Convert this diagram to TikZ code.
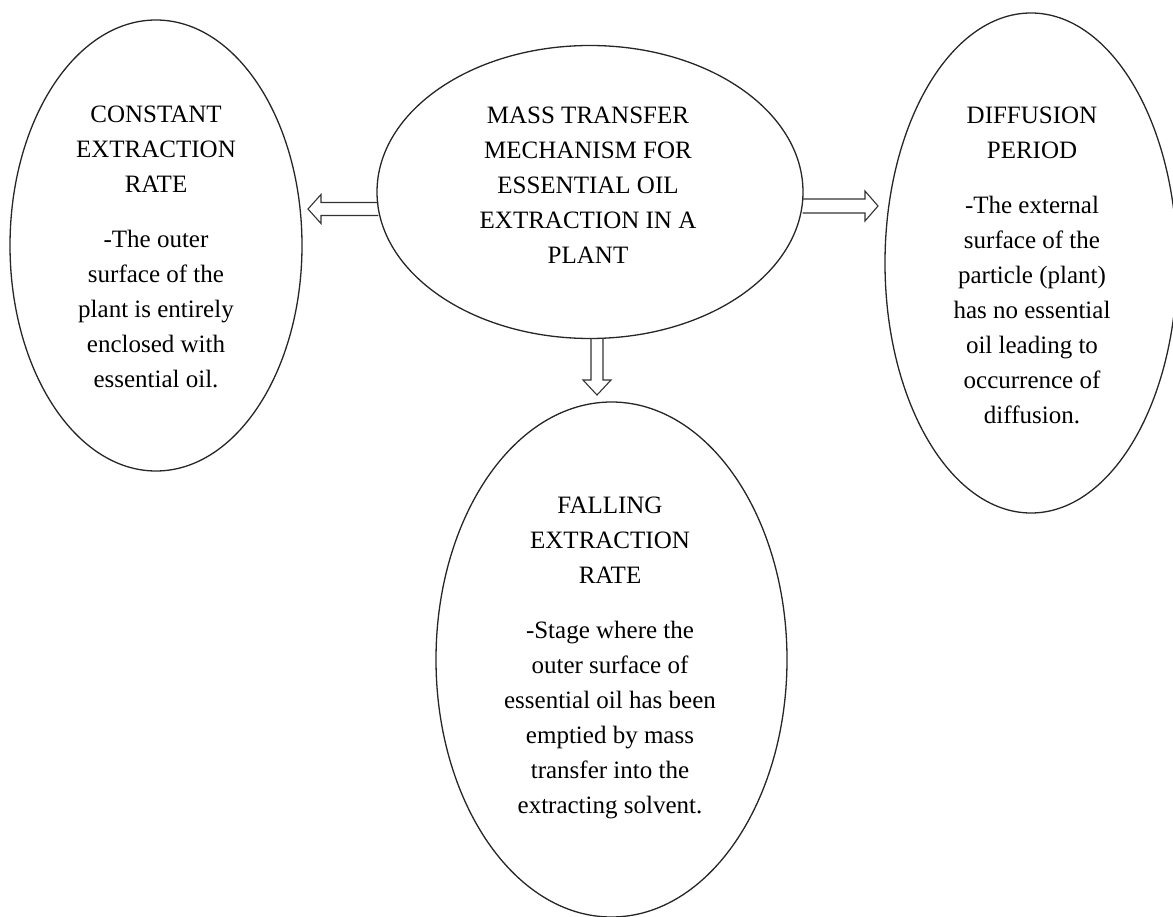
\documentclass[tikz,border=0pt]{standalone}
\usepackage{fontspec}
\setmainfont{Liberation Serif}
\usetikzlibrary{shapes.geometric,calc}
\begin{document}
\begin{tikzpicture}[x=1pt,y=-1pt,
  oval/.style={draw=black!85, line width=1.3pt, ellipse, inner sep=0pt},
  txt/.style={anchor=north, align=center, inner sep=0pt,
    font=\fontsize{25}{35}\selectfont, text=black},
  harrow/.style={draw=black!80, line width=1.1pt, line join=miter}]
\useasboundingbox (0,0) rectangle (1173,917);
% ellipses
\node[oval, minimum width=292pt, minimum height=451pt] (L) at (156,245.5) {};
\node[oval, minimum width=426pt, minimum height=293pt] (C) at (590,192) {};
\node[oval, minimum width=292pt, minimum height=500pt] (R) at (1031,263) {};
\node[oval, minimum width=351pt, minimum height=515pt] (B) at (611.5,659.5) {};
% texts
\node[txt] (Lt) at (156,105.5) {CONSTANT\\EXTRACTION\\RATE\\[20pt]-The outer\\surface of the\\plant is entirely\\enclosed with\\essential oil.};
\node[txt] (Ct) at (588,107) {MASS TRANSFER\\MECHANISM FOR\\ESSENTIAL OIL\\EXTRACTION IN A\\PLANT};
\node[txt] (Rt) at (1032,107) {DIFFUSION\\PERIOD\\[20pt]-The external\\surface of the\\particle (plant)\\has no essential\\oil leading to\\occurrence of\\diffusion.};
\node[txt] (Bt) at (610,497) {FALLING\\EXTRACTION\\RATE\\[20pt]-Stage where the\\outer surface of\\essential oil has been\\emptied by mass\\transfer into the\\extracting solvent.};
% hollow arrows
\coordinate (tipL) at (308,209);
\coordinate (tipR) at (878,206);
\coordinate (tipB) at (597,395);
\draw[harrow] ($(C.west|-tipL)+(2,-6.5)$) -- ($(tipL)+(13,-6.5)$) -- ($(tipL)+(13,-14.5)$) -- (tipL) -- ($(tipL)+(13,14.5)$) -- ($(tipL)+(13,6.5)$) -- ($(C.west|-tipL)+(2,6.5)$);
\draw[harrow] ($(C.east|-tipR)+(-1,-7)$) -- ($(tipR)+(-13,-7)$) -- ($(tipR)+(-13,-15)$) -- (tipR) -- ($(tipR)+(-13,15)$) -- ($(tipR)+(-13,7)$) -- ($(C.east|-tipR)+(-1,7)$);
\draw[harrow] ($(C.south-|tipB)+(-6,-1)$) -- ($(tipB)+(-6,-15)$) -- ($(tipB)+(-14,-15)$) -- (tipB) -- ($(tipB)+(14,-15)$) -- ($(tipB)+(6,-15)$) -- ($(C.south-|tipB)+(6,-1)$);
\end{tikzpicture}
\end{document}
